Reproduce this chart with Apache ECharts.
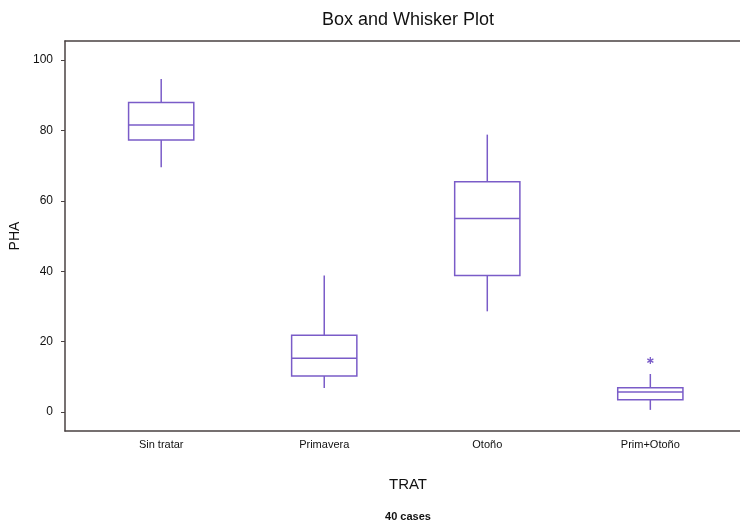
<!DOCTYPE html>
<html>
<head>
<meta charset="utf-8">
<script src="https://cdn.jsdelivr.net/npm/echarts@6/dist/echarts.min.js"></script>
<style>html,body{margin:0;padding:0;background:#fff;}#c{width:740px;height:523px;}</style>
</head>
<body>
<div id="c"></div>
<script>
const categories = ['Sin tratar', 'Primavera', 'Otoño', 'Prim+Otoño'];
const mins    = [69.5, 6.8, 28.6, 0.6];
const q1s     = [77.3, 10.2, 38.8, 3.5];
const medians = [81.5, 15.3, 55.0, 5.7];
const q3s     = [87.9, 21.8, 65.4, 6.9];
const maxs    = [94.6, 38.8, 78.8, 10.8];
const outliers = [[3, 14.6]]; // [category index, value]
const yTicks = [0, 20, 40, 60, 80, 100];

const boxColor = '#7a5cc8';
const frameColor = '#4a4242';
const narrow = '"Liberation Sans Narrow", "Arial Narrow", "Liberation Sans", Arial, sans-serif';

const boxData = categories.map((c, i) => [i + 1, mins[i], q1s[i], medians[i], q3s[i], maxs[i]]);
const outData = outliers.map(o => [o[0] + 1, o[1]]);

const xMin = 0.41, xMax = 4.55;

const chart = echarts.init(document.getElementById('c'), null, {renderer: 'canvas'});
chart.setOption({
  animation: false,
  backgroundColor: '#fff',
  title: [
    {text: 'Box and Whisker Plot', left: 403, top: 6, textAlign: 'center',
     textStyle: {fontFamily: narrow, fontSize: 18, fontWeight: 'normal', color: '#111'}},
    {text: 'TRAT', left: 403, top: 472, textAlign: 'center',
     textStyle: {fontFamily: narrow, fontSize: 15, fontWeight: 'normal', color: '#111'}},
    {text: '40 cases', left: 403, top: 506, textAlign: 'center',
     textStyle: {fontFamily: narrow, fontSize: 11, fontWeight: 'bold', color: '#111'}}
  ],
  grid: {left: 65, right: 0, top: 41, bottom: 92, show: false},
  xAxis: [{
    type: 'value', min: xMin, max: xMax, position: 'bottom',
    splitLine: {show: false},
    axisLine: {show: true, onZero: false, lineStyle: {color: frameColor, width: 1.5}},
    axisTick: {show: false},
    axisLabel: {
      customValues: [1, 2, 3, 4],
      formatter: v => categories[Math.round(v) - 1] || '',
      fontFamily: narrow, fontSize: 11, color: '#111', margin: 8
    }
  }, {
    type: 'value', min: xMin, max: xMax, position: 'top',
    splitLine: {show: false},
    axisLine: {show: true, onZero: false, lineStyle: {color: frameColor, width: 1.5}},
    axisTick: {show: false},
    axisLabel: {show: false}
  }],
  yAxis: {
    type: 'value', min: -5.4, max: 105.4,
    name: 'PHA', nameLocation: 'middle', nameRotate: 90, nameGap: 39,
    nameTextStyle: {fontFamily: narrow, fontSize: 14, color: '#111'},
    splitLine: {show: false},
    axisLine: {show: true, lineStyle: {color: frameColor, width: 1.5}},
    axisTick: {show: true, customValues: yTicks, length: 4, lineStyle: {color: frameColor}},
    axisLabel: {customValues: yTicks, fontFamily: narrow, fontSize: 12, color: '#111', margin: 12}
  },
  series: [
    {
      type: 'custom',
      data: boxData,
      encode: {x: 0, y: [1, 2, 3, 4, 5]},
      renderItem: function (params, api) {
        const x = api.value(0);
        const half = api.size([0.4, 0])[0] / 2;
        const pMin = api.coord([x, api.value(1)]);
        const pQ1 = api.coord([x, api.value(2)]);
        const pMed = api.coord([x, api.value(3)]);
        const pQ3 = api.coord([x, api.value(4)]);
        const pMax = api.coord([x, api.value(5)]);
        const st = {stroke: boxColor, lineWidth: 1.5, fill: null};
        return {
          type: 'group',
          children: [
            {type: 'line', shape: {x1: pMax[0], y1: pMax[1], x2: pQ3[0], y2: pQ3[1]}, style: st},
            {type: 'line', shape: {x1: pQ1[0], y1: pQ1[1], x2: pMin[0], y2: pMin[1]}, style: st},
            {type: 'rect', shape: {x: pQ3[0] - half, y: pQ3[1], width: half * 2, height: pQ1[1] - pQ3[1]}, style: {stroke: boxColor, lineWidth: 1.5, fill: '#fff'}},
            {type: 'line', shape: {x1: pMed[0] - half, y1: pMed[1], x2: pMed[0] + half, y2: pMed[1]}, style: st}
          ]
        };
      }
    },
    {
      type: 'custom',
      data: outData,
      encode: {x: 0, y: 1},
      renderItem: function (params, api) {
        const p = api.coord([api.value(0), api.value(1)]);
        const r = 3.5;
        const st = {stroke: boxColor, lineWidth: 1.3};
        const d = r * Math.cos(Math.PI / 6), e = r * Math.sin(Math.PI / 6);
        return {
          type: 'group',
          children: [
            {type: 'line', shape: {x1: p[0], y1: p[1] - r, x2: p[0], y2: p[1] + r}, style: st},
            {type: 'line', shape: {x1: p[0] - d, y1: p[1] - e, x2: p[0] + d, y2: p[1] + e}, style: st},
            {type: 'line', shape: {x1: p[0] - d, y1: p[1] + e, x2: p[0] + d, y2: p[1] - e}, style: st}
          ]
        };
      }
    }
  ]
});
</script>
</body>
</html>
